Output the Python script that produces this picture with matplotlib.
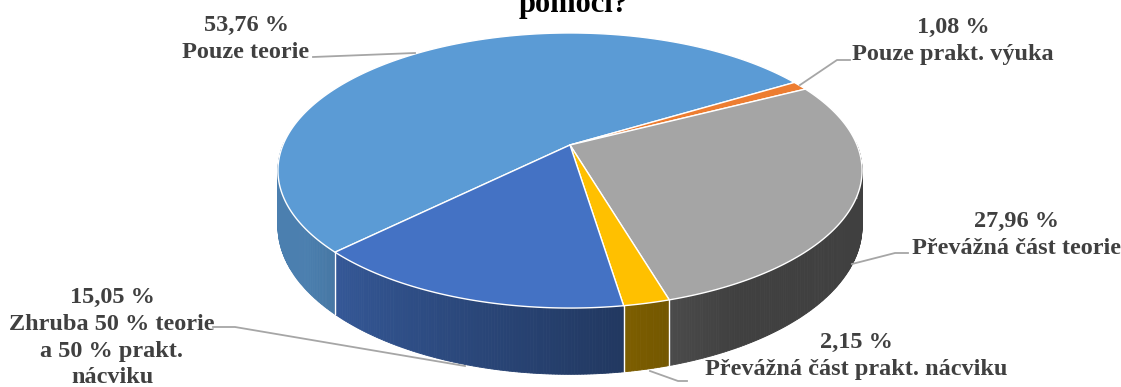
import numpy as np
import matplotlib.pyplot as plt
from matplotlib.patches import Polygon
from matplotlib.colors import to_rgb

# data
categories = ["Pouze teorie", "Pouze prakt. výuka", "Převážná část teorie",
              "Převážná část prakt. nácviku",
              "Zhruba 50 % teorie\na 50 % prakt.\nnácviku"]
shares = [53.76, 1.08, 27.96, 2.15, 15.05]
pct_labels = ["53,76 %", "1,08 %", "27,96 %", "2,15 %", "15,05 %"]

top_colors = ["#5B9BD5", "#ED7D31", "#A5A5A5", "#FFC000", "#4472C4"]

# geometry of the tilted pie (pixel space)
CX, CY = 570, 145
A, B, K = 287, 132.8, 0.1855
DEPTH = 54
START = 224.6  # degrees, slices go clockwise


def proj(theta, drop=0.0):
    u, w = np.cos(theta), np.sin(theta)
    s = 1.0 / (1.0 + K * w)
    return CX + A * u * s, CY - B * w * s + drop * s


def wall_factor(theta):
    p = ((np.degrees(theta) % 360) - 180) / 180.0
    return np.clip(0.77 - 0.93 * (p - 0.25), 0.39, 0.82)


fig = plt.figure(figsize=(11.21, 3.87), dpi=100)
ax = fig.add_axes([0, 0, 1, 1])
ax.set_xlim(0, 1121)
ax.set_ylim(387, 0)
ax.axis('off')

# slice angle ranges
bounds = []
t = START
for v in shares:
    span = 360.0 * v / sum(shares)
    bounds.append((t - span, t))
    t -= span

# side walls (front half only)
for (t1, t0), col in zip(bounds, top_colors):
    base = np.array(to_rgb(col))
    angs = np.radians(np.linspace(t1, t0, max(int((t0 - t1) * 2), 2)))
    for a0, a1 in zip(angs[:-1], angs[1:]):
        if np.sin(0.5 * (a0 + a1)) > 0.02:
            continue
        x0, y0 = proj(a0)
        x1, y1 = proj(a1)
        x0b, y0b = proj(a0, DEPTH)
        x1b, y1b = proj(a1, DEPTH)
        c = base * wall_factor(0.5 * (a0 + a1))
        ax.add_patch(Polygon([(x0, y0), (x1, y1), (x1b, y1b), (x0b, y0b)],
                             closed=True, facecolor=c, edgecolor=c, lw=0.6))

# white separators on the wall
for (t1, t0) in bounds:
    a = np.radians(t0)
    if np.sin(a) < -0.05:
        x0, y0 = proj(a)
        x1, y1 = proj(a, DEPTH)
        ax.plot([x0, x1], [y0, y1], color='white', lw=1.0)

# top faces
for (t1, t0), col in zip(bounds, top_colors):
    angs = np.radians(np.linspace(t0, t1, max(int((t0 - t1) * 2), 3)))
    pts = [(CX, CY)] + [proj(a) for a in angs]
    ax.add_patch(Polygon(pts, closed=True, facecolor=col,
                         edgecolor='white', lw=1.0, joinstyle='round'))

# labels, one text per line (baselines)
txt = dict(family='Liberation Serif', weight='bold', size=17.5,
           color='#404040', ha='center', va='baseline')
label_pos = [(246, 31), (953, 33), (1016, 227), (856, 348), (112, 303)]
line_step = 26.8
for (x, y), p, name in zip(label_pos, pct_labels, categories):
    for i, line in enumerate([p] + name.split("\n")):
        ax.text(x, y + i * line_step, line, **txt)

leaders = [
    [(313, 57), (415, 53)],
    [(850, 60), (837, 60), (800, 85)],
    [(908, 253), (895, 253), (852, 264)],
    [(687, 381), (678, 381), (650, 371)],
    [(213, 327), (235, 327), (465, 366)],
]
for pts in leaders:
    xs, ys = zip(*pts)
    ax.plot(xs, ys, color='#A6A6A6', lw=1.3)

ax.text(574, 12, "pomocí?", family='Liberation Serif', weight='bold',
        size=22, color='black', ha='center', va='baseline')

fig.savefig("out.png", dpi=100)
